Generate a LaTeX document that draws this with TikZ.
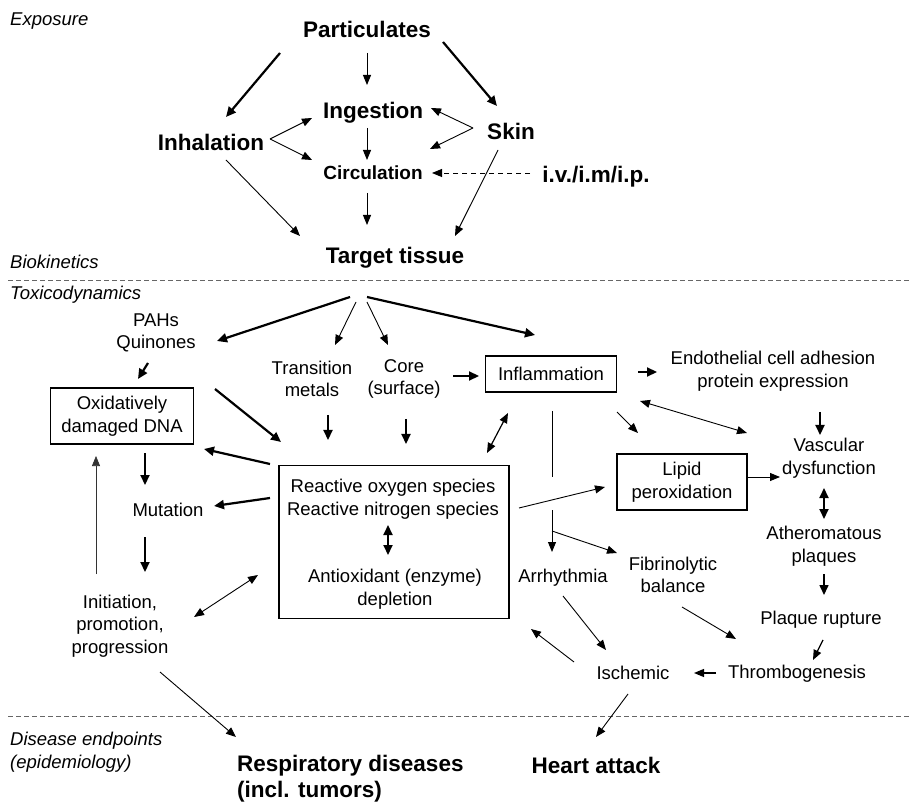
\documentclass[tikz,border=0pt]{standalone}
\usepackage{fontspec}
\setmainfont{Liberation Sans}
\usetikzlibrary{arrows.meta,calc}
\begin{document}
\begin{tikzpicture}[x=1pt,y=-1pt,
  txt/.style={font=\fontsize{18.5}{22.5}\selectfont, align=center, inner sep=1pt, text=black},
  bld/.style={font=\bfseries\fontsize{22.5}{26}\selectfont, align=center, inner sep=1pt},
  sect/.style={font=\itshape\fontsize{18.5}{22.5}\selectfont, align=left, anchor=west, inner sep=0pt},
  bx/.style={draw, line width=1.8pt, inner sep=0pt},
  thn/.style={line width=0.9pt, -{Triangle[length=10pt,width=8pt]}},
  thk/.style={line width=2.2pt, -{Triangle[length=10pt,width=9pt]}},
  dthn/.style={line width=0.9pt, {Triangle[length=10pt,width=8pt]}-{Triangle[length=10pt,width=8pt]}},
  dthk/.style={line width=2pt, {Triangle[length=10pt,width=9pt]}-{Triangle[length=10pt,width=9pt]}},
  sepline/.style={black!60, line width=1pt, dash pattern=on 5pt off 3pt}]
\useasboundingbox[fill=white] (0,0) rectangle (911,802);

% separators
\draw[sepline] (8,281) -- (911,281);
\draw[sepline] (8,716) -- (911,716);

% section labels
\node[sect] (expo) at (10,21) {Exposure};
\node[sect] (biok) at (10,262) {Biokinetics};
\node[sect] (toxi) at (10,295) {Toxicodynamics};
\node[sect] (dise) at (10,752) {Disease endpoints\\(epidemiology)};

% exposure / biokinetics
\node[bld] (part) at (367,29) {Particulates};
\node[bld] (inh) at (211,142) {Inhalation};
\node[bld] (ing) at (373,113) {Ingestion};
\node[bld] (skin) at (511,131) {Skin};
\node[font=\bfseries\fontsize{19}{22}\selectfont, inner sep=1pt] (circ) at (373,173) {Circulation};
\node[bld] (iv) at (596,177) {i.v./i.m/i.p.};
\node[bld] (target) at (395,258) {Target tissue};

\draw[thk] ($(part)+(-87,24)$) -- ($(inh)+(15,-25)$);
\draw[thn] ($(part)+(0,24)$) -- ($(ing)+(-6,-28)$);
\draw[thk] ($(part)+(76,13)$) -- ($(skin)+(-14,-25)$);
\draw[thn] ($(inh)+(59,-3)$) -- ($(ing)+(-61,5)$);
\draw[thn] ($(inh)+(59,-3)$) -- ($(circ)+(-61,-13)$);
\draw[thn] ($(skin)+(-38,-3)$) -- ($(ing)+(58,-5)$);
\draw[thn] ($(skin)+(-38,-3)$) -- ($(circ)+(57,-24)$);
\draw[thn] ($(ing)+(-6,15)$) -- ($(circ)+(-6,-13)$);
\draw[line width=0.9pt, dash pattern=on 5pt off 4pt, -{Triangle[length=10pt,width=8pt]}] ($(iv)+(-66,-4)$) -- ($(circ)+(59,0)$);
\draw[thn] ($(circ)+(-6,20)$) -- ($(target)+(-28,-33)$);
\draw[thn] ($(inh)+(15,18)$) -- ($(target)+(-95,-22)$);
\draw[thn] ($(skin)+(-13,19)$) -- ($(target)+(60,-22)$);

% toxicodynamics
\coordinate (src) at (358,298);
\node[txt] (pah) at (156,333) {PAHs\\Quinones};
\node[txt] (trans) at (312,379) {Transition\\metals};
\node[txt] (core) at (404,379) {Core\\(surface)};
\node[txt,bx,minimum width=131pt,minimum height=36pt] (infl) at (551,374) {Inflammation};
\node[txt] (endo) at (773,371) {Endothelial cell adhesion\\protein expression};
\node[txt,bx,minimum width=143pt,minimum height=56pt] (oxd) at (122,416) {Oxidatively\\damaged DNA};
\node[bx,minimum width=230pt,minimum height=153pt] (ros) at (394,542) {};
\node[txt] (rosA) at (393,499) {Reactive oxygen species\\Reactive nitrogen species};
\node[txt] (antiox) at (395,589) {Antioxidant (enzyme)\\depletion};
\node[txt] (mut) at (168,510) {Mutation};
\node[txt] (init) at (120,626) {Initiation,\\promotion,\\progression};
\node[txt,bx,minimum width=130pt,minimum height=56pt] (lipid) at (682,482) {Lipid\\peroxidation};
\node[txt] (vasc) at (829,458) {Vascular\\dysfunction};
\node[txt] (ather) at (824,546) {Atheromatous\\plaques};
\node[txt] (plaq) at (821,620) {Plaque rupture};
\node[txt] (thromb) at (797,674) {Thrombogenesis};
\node[txt] (isch) at (633,673) {Ischemic};
\node[txt] (arr) at (563,578) {Arrhythmia};
\node[txt] (fib) at (673,575) {Fibrinolytic\\balance};
\node[bld, align=left, anchor=west] (resp) at (236,779) {Respiratory diseases\\(incl. tumors)};
\node[bld] (heart) at (596,765) {Heart attack};

\draw[thk] ($(src)+(-8,-1)$) -- ($(pah)+(61,8)$);
\draw[thn] ($(src)+(-2,4)$) -- ($(trans)+(23,-34)$);
\draw[thn] ($(src)+(9,4)$) -- ($(core)+(-16,-34)$);
\draw[thk] ($(src)+(9,-1)$) -- ($(infl)+(-16,-39)$);
\draw[thk] ($(pah)+(-8,30)$) -- ($(oxd)+(16,-37)$);
\draw[thk] ($(pah)+(59,56)$) -- ($(ros)+(-113,-100)$);
\draw[thk] ($(trans)+(16,36)$) -- ($(ros)+(-66,-102)$);
\draw[thk] ($(core)+(2,40)$) -- ($(ros)+(12,-98)$);
\draw[thk] ($(core)+(49,-3)$) -- ($(infl)+(-72,2)$);
\draw[thk] ($(infl)+(87,-2)$) -- ($(endo)+(-116,1)$);
\draw[thk] ($(ros)+(-124,-78)$) -- ($(oxd)+(82,33)$);
\draw[thk] ($(ros)+(-124,-44)$) -- ($(mut)+(46,-4)$);
\draw[thk] ($(oxd)+(23,37)$) -- ($(mut)+(-23,-25)$);
\draw[thk] ($(mut)+(-23,27)$) -- ($(init)+(25,-54)$);
\draw[line width=0.7pt, black!80, -{Triangle[length=10pt,width=8pt]}] ($(init)+(-24,-52)$) -- ($(oxd)+(-26,40)$);
\draw[dthn] ($(init)+(74,-9)$) -- ($(ros)+(-136,33)$);
\draw[thn] ($(init)+(40,46)$) -- ($(resp.west)+(0,-42)$);
\draw[dthk] ($(rosA)+(-5,26)$) -- ($(antiox)+(-7,-34)$);

\draw[dthn, line width=1.2pt] ($(infl)+(-43,39)$) -- ($(ros)+(93,-89)$);
\draw[line width=0.9pt] ($(infl)+(1,37)$) -- ($(infl)+(1,103)$);
\draw[thn] ($(infl)+(1,136)$) -- ($(arr)+(-11,-26)$);
\draw[thn] ($(infl)+(1,157)$) -- ($(fib)+(-56,-22)$);
\draw[thn] ($(ros)+(125,-34)$) -- ($(lipid)+(-77,5)$);
\draw[thn] ($(infl)+(66,38)$) -- ($(lipid)+(-44,-49)$);
\draw[dthn] ($(infl)+(89,27)$) -- ($(vasc)+(-82,-25)$);
\draw[thk] ($(endo)+(47,41)$) -- ($(vasc)+(-9,-23)$);
\draw[thn] ($(lipid)+(65,-5)$) -- ($(vasc)+(-49,19)$);
\draw[dthk] ($(vasc)+(-5,30)$) -- ($(ather)+(0,-27)$);
\draw[thk, line width=1.6pt] ($(ather)+(0,28)$) -- ($(plaq)+(3,-25)$);
\draw[thn, line width=1.2pt] ($(plaq)+(2,20)$) -- ($(thromb)+(16,-14)$);
\draw[thn, line width=1.2pt] ($(thromb)+(-81,-1)$) -- ($(isch)+(61,0)$);
\draw[thn] ($(arr)+(0,18)$) -- ($(isch)+(-27,-23)$);
\draw[thn] ($(fib)+(9,32)$) -- ($(thromb)+(-61,-35)$);
\draw[thn] ($(isch)+(-59,-11)$) -- ($(ros)+(137,87)$);
\draw[thn] ($(isch)+(-5,21)$) -- ($(heart)+(0,-28)$);
\end{tikzpicture}
\end{document}
